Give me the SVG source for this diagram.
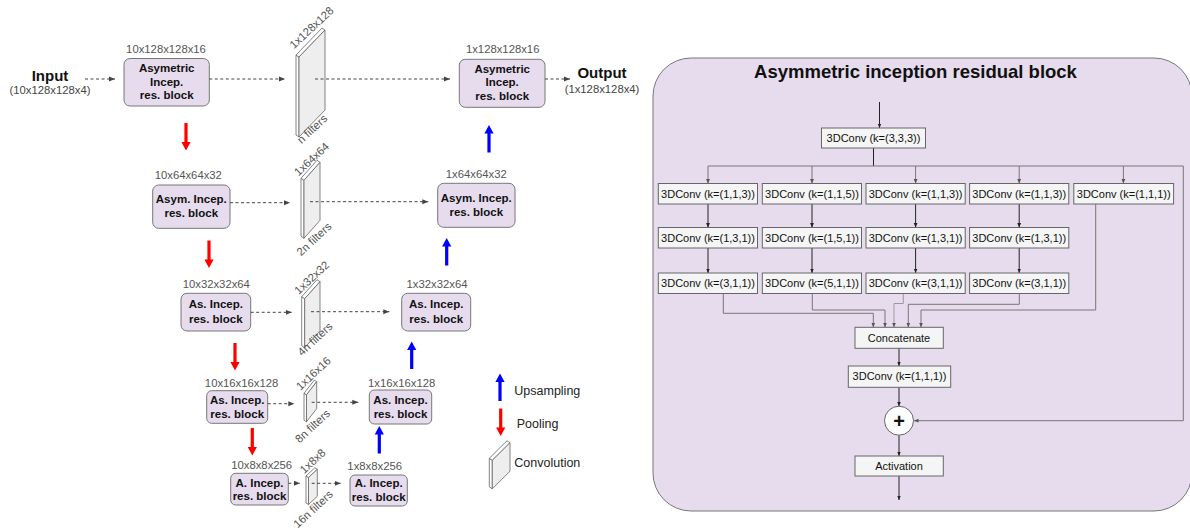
<svg xmlns="http://www.w3.org/2000/svg" width="1190" height="528" viewBox="0 0 1190 528">
<defs>
<style>
.lbl{font-family:"Liberation Sans",Arial,sans-serif;font-size:11.3px;fill:#555;}
.bt{font-family:"Liberation Sans",Arial,sans-serif;font-size:11.5px;font-weight:bold;fill:#111;text-anchor:middle;}
.box{fill:#e6dced;stroke:#777;stroke-width:1;}
.dash{stroke:#444;stroke-width:1;stroke-dasharray:3,2.5;fill:none;marker-end:url(#dh);}
.face{fill:#eeeeee;stroke:#666;stroke-width:0.8;}
.edge{fill:#ffffff;stroke:#666;stroke-width:0.8;}
.rot{font-family:"Liberation Sans",Arial,sans-serif;font-size:11.3px;fill:#555;text-anchor:middle;}
.leg{font-family:"Liberation Sans",Arial,sans-serif;font-size:12.5px;fill:#222;}
.cb{fill:#f5f5f5;stroke:#666;stroke-width:1;}
.ct{font-family:"Liberation Sans",Arial,sans-serif;font-size:11px;fill:#111;text-anchor:middle;}
.ln{stroke:#222;stroke-width:1;fill:none;marker-end:url(#ah);}
.gl{stroke:#777;stroke-width:1;fill:none;marker-end:url(#ag);}
.gn{stroke:#777;stroke-width:1;fill:none;}
</style>
<marker id="dh" markerUnits="userSpaceOnUse" markerWidth="7" markerHeight="6" refX="6" refY="3" orient="auto"><path d="M0,0.5 L6,3 L0,5.5 Z" fill="#444"/></marker>
<marker id="ah" markerUnits="userSpaceOnUse" markerWidth="5" markerHeight="5" refX="4.5" refY="2.5" orient="auto"><path d="M0,0.6 L4.5,2.5 L0,4.4 Z" fill="#222"/></marker>
<marker id="ag" markerUnits="userSpaceOnUse" markerWidth="5" markerHeight="5" refX="4.5" refY="2.5" orient="auto"><path d="M0,0.6 L4.5,2.5 L0,4.4 Z" fill="#555"/></marker>
<path id="down" d="M-1.6,0 H1.6 V19 H4.6 L0,27.5 L-4.6,19 H-1.6 Z"/>
<path id="up" d="M-1.6,27.5 H1.6 V8.5 H4.6 L0,0 L-4.6,8.5 H-1.6 Z"/>
</defs>
<rect width="1190" height="528" fill="#ffffff"/>

<!-- Input / Output -->
<g id="input">
<text x="50" y="81" font-family="Liberation Sans,Arial,sans-serif" font-size="15" font-weight="bold" text-anchor="middle" fill="#111">Input</text>
<text x="50" y="94.3" class="lbl" text-anchor="middle" style="fill:#444">(10x128x128x4)</text>
</g>
<g id="output">
<text x="602" y="78.3" font-family="Liberation Sans,Arial,sans-serif" font-size="15" font-weight="bold" text-anchor="middle" fill="#111">Output</text>
<text x="602" y="93.3" class="lbl" text-anchor="middle" style="fill:#444">(1x128x128x4)</text>
</g>

<!-- Encoder blocks -->
<g id="enc1">
<text x="166" y="52.7" class="lbl" text-anchor="middle">10x128x128x16</text>
<rect x="124" y="58.5" width="85.3" height="47.5" rx="6" class="box"/>
<text x="166.7" y="72" class="bt">Asymetric</text>
<text x="166.7" y="85.5" class="bt">Incep.</text>
<text x="166.7" y="99" class="bt">res. block</text>
</g>
<g id="enc2">
<text x="188.3" y="179" class="lbl" text-anchor="middle">10x64x64x32</text>
<rect x="152.7" y="185" width="77.3" height="43.3" rx="6" class="box"/>
<text x="191.3" y="203.3" class="bt">Asym. Incep.</text>
<text x="191.3" y="216.7" class="bt">res. block</text>
</g>
<g id="enc3">
<text x="216.3" y="288.3" class="lbl" text-anchor="middle">10x32x32x64</text>
<rect x="181" y="293.3" width="69.7" height="37.7" rx="6" class="box"/>
<text x="215.8" y="308.3" class="bt">As. Incep.</text>
<text x="215.8" y="322.7" class="bt">res. block</text>
</g>
<g id="enc4">
<text x="241.6" y="386.7" class="lbl" text-anchor="middle">10x16x16x128</text>
<rect x="206.7" y="390.7" width="61" height="32.6" rx="5" class="box"/>
<text x="237.2" y="404.3" class="bt">As. Incep.</text>
<text x="237.2" y="417.7" class="bt">res. block</text>
</g>
<g id="enc5">
<text x="261.7" y="469" class="lbl" text-anchor="middle">10x8x8x256</text>
<rect x="230.7" y="473.3" width="57.6" height="31.7" rx="5" class="box"/>
<text x="259.5" y="486.7" class="bt">A. Incep.</text>
<text x="259.5" y="500" class="bt">res. block</text>
</g>

<!-- Decoder blocks -->
<g id="dec1">
<text x="502.7" y="52.7" class="lbl" text-anchor="middle">1x128x128x16</text>
<rect x="459.3" y="59.3" width="85.7" height="48" rx="6" class="box"/>
<text x="502.2" y="72.5" class="bt">Asymetric</text>
<text x="502.2" y="86" class="bt">Incep.</text>
<text x="502.2" y="99.5" class="bt">res. block</text>
</g>
<g id="dec2">
<text x="476.3" y="178.3" class="lbl" text-anchor="middle">1x64x64x32</text>
<rect x="437.7" y="183.3" width="77.3" height="44" rx="6" class="box"/>
<text x="476.3" y="201.7" class="bt">Asym. Incep.</text>
<text x="476.3" y="215.7" class="bt">res. block</text>
</g>
<g id="dec3">
<text x="437" y="288.3" class="lbl" text-anchor="middle">1x32x32x64</text>
<rect x="401.7" y="293.3" width="69" height="37.7" rx="6" class="box"/>
<text x="436.2" y="308.3" class="bt">As. Incep.</text>
<text x="436.2" y="322.7" class="bt">res. block</text>
</g>
<g id="dec4">
<text x="401.7" y="386.7" class="lbl" text-anchor="middle">1x16x16x128</text>
<rect x="369.3" y="390" width="62.4" height="34" rx="5" class="box"/>
<text x="400.5" y="404" class="bt">As. Incep.</text>
<text x="400.5" y="417.7" class="bt">res. block</text>
</g>
<g id="dec5">
<text x="374.7" y="470" class="lbl" text-anchor="middle">1x8x8x256</text>
<rect x="350" y="475" width="57.3" height="31" rx="5" class="box"/>
<text x="378.7" y="487.3" class="bt">A. Incep.</text>
<text x="378.7" y="500.7" class="bt">res. block</text>
</g>

<!-- Connectors (left) -->
<g id="connectors-left">
<line x1="85" y1="79" x2="115" y2="79" class="dash"/>
<line x1="209.3" y1="79" x2="285" y2="79" class="dash"/>
<line x1="545" y1="79" x2="570" y2="79" class="dash"/>
<line x1="230" y1="202.7" x2="290" y2="202.7" class="dash"/>
<line x1="250.7" y1="312.3" x2="291.7" y2="312.3" class="dash"/>
<line x1="267.7" y1="403.7" x2="294.3" y2="403.7" class="dash"/>
<line x1="288.3" y1="483.3" x2="300" y2="483.3" class="dash"/>
<g fill="#ff0000">
<use href="#down" x="186" y="123"/>
<use href="#down" x="209" y="240.5"/>
<use href="#down" x="235" y="343"/>
<use href="#down" x="252.3" y="428"/>
</g>
<g fill="#0000ff">
<use href="#up" x="489" y="125"/>
<use href="#up" x="446.7" y="238"/>
<use href="#up" x="411.7" y="341.5"/>
<use href="#up" x="379.3" y="426"/>
</g>
</g>

<!-- Convolution slabs -->
<g id="conv1">
<polygon points="296,55 299,57 299,137 296,135" class="edge"/>
<polygon points="296,55 322,28 325,30 299,57" class="edge"/>
<polygon points="299,57 325,30 325,110 299,137" class="face"/>
<text class="rot" transform="translate(311.5,27.5) rotate(-43)" x="0" y="4">1x128x128</text>
<text class="rot" transform="translate(312,129) rotate(-43)" x="0" y="4">n filters</text>
</g>
<g id="conv2">
<polygon points="301,178.3 304,180.3 304,238.3 301,236.3" class="edge"/>
<polygon points="301,178.3 317,160.3 320,162.3 304,180.3" class="edge"/>
<polygon points="304,180.3 320,162.3 320,220.3 304,238.3" class="face"/>
<text class="rot" transform="translate(311.5,159) rotate(-43)" x="0" y="4">1x64x64</text>
<text class="rot" transform="translate(314,239) rotate(-43)" x="0" y="4">2n filters</text>
</g>
<g id="conv3">
<polygon points="301.7,296.7 304.7,298.7 304.7,347.7 301.7,345.7" class="edge"/>
<polygon points="301.7,296.7 317,279.7 320,281.7 304.7,298.7" class="edge"/>
<polygon points="304.7,298.7 320,281.7 320,330.7 304.7,347.7" class="face"/>
<text class="rot" transform="translate(311.7,277.5) rotate(-43)" x="0" y="4">1x32x32</text>
<text class="rot" transform="translate(315,339) rotate(-43)" x="0" y="4">4n filters</text>
</g>
<g id="conv4">
<polygon points="304,393.3 306.5,394.8 306.5,421.8 304,420.3" class="edge"/>
<polygon points="304,393.3 314.2,380.2 316.7,381.7 306.5,394.8" class="edge"/>
<polygon points="306.5,394.8 316.7,381.7 316.7,408.7 306.5,421.8" class="face"/>
<text class="rot" transform="translate(313.3,373.3) rotate(-43)" x="0" y="4">1x16x16</text>
<text class="rot" transform="translate(312.5,426) rotate(-43)" x="0" y="4">8n filters</text>
</g>
<g id="conv5">
<polygon points="306,476 308.5,477.5 308.5,504.5 306,503" class="edge"/>
<polygon points="306,476 314.8,467.8 317.3,469.3 308.5,477.5" class="edge"/>
<polygon points="308.5,477.5 317.3,469.3 317.3,496.3 308.5,504.5" class="face"/>
<text class="rot" transform="translate(312.5,461) rotate(-43)" x="0" y="4">1x8x8</text>
<text class="rot" transform="translate(313,509) rotate(-43)" x="0" y="4">16n filters</text>
</g>

<g id="skip-connectors">
<line x1="315" y1="79" x2="450" y2="79" class="dash"/>
<line x1="310" y1="201.7" x2="428.3" y2="201.7" class="dash"/>
<line x1="311" y1="311.7" x2="389.3" y2="311.7" class="dash"/>
<line x1="311.7" y1="402.3" x2="358.3" y2="402.3" class="dash"/>
<line x1="311.7" y1="483.3" x2="340.7" y2="483.3" class="dash"/>
</g>

<!-- Legend -->
<g id="legend">
<use href="#up" x="500" y="373.5" fill="#0000ff"/>
<text x="514.3" y="395" class="leg">Upsampling</text>
<use href="#down" x="500.7" y="408.5" fill="#ff0000"/>
<text x="516.7" y="428.3" class="leg">Pooling</text>
<polygon points="489.3,458.3 492.3,460.3 492.3,488.8 489.3,486.8" class="edge"/>
<polygon points="489.3,458.3 507,440.7 510,442.7 492.3,460.3" class="edge"/>
<polygon points="492.3,460.3 510,442.7 510,471.2 492.3,488.8" class="face"/>
<text x="514.3" y="466.7" class="leg">Convolution</text>
</g>

<!-- Right panel -->
<g id="panel">
<rect x="653" y="58" width="539" height="453" rx="38" fill="#e6dcee" stroke="#777" stroke-width="1"/>
<text x="915.5" y="78" font-family="Liberation Sans,Arial,sans-serif" font-size="18.5" font-weight="bold" text-anchor="middle" fill="#111">Asymmetric inception residual block</text>
</g>

<g id="panel-connectors">
<line x1="879.5" y1="102" x2="879.5" y2="128" class="ln"/>
<polyline points="873.5,148 873.5,166" class="gn" style="stroke:#222"/>
<polyline points="708,166 1183.3,166 1183.3,420.7 914,420.7" class="gl"/>
<line x1="708" y1="166" x2="708" y2="183.5" class="gl"/>
<line x1="812" y1="166" x2="812" y2="183.5" class="gl"/>
<line x1="915.6" y1="166" x2="915.6" y2="183.5" class="gl"/>
<line x1="1019.2" y1="166" x2="1019.2" y2="183.5" class="gl"/>
<line x1="1123.4" y1="166" x2="1123.4" y2="183.5" class="gl"/>
<line x1="708" y1="204" x2="708" y2="227.5" class="ln"/>
<line x1="812" y1="204" x2="812" y2="227.5" class="ln"/>
<line x1="915.6" y1="204" x2="915.6" y2="227.5" class="ln"/>
<line x1="1019.2" y1="204" x2="1019.2" y2="227.5" class="ln"/>
<line x1="708" y1="248" x2="708" y2="273" class="ln"/>
<line x1="812" y1="248" x2="812" y2="273" class="ln"/>
<line x1="915.6" y1="248" x2="915.6" y2="273" class="ln"/>
<line x1="1019.2" y1="248" x2="1019.2" y2="273" class="ln"/>
<polyline points="723.3,293.5 723.3,313.3 873.3,313.3 873.3,327.3" class="gl"/>
<polyline points="812.3,293.5 812.3,310 885,310 885,327.3" class="gl"/>
<polyline points="903.3,293.5 903.3,303.5 894,303.5 894,327.3" class="gl" style="stroke:#999"/>
<polyline points="1019.3,293.5 1019.3,304.3 908.3,304.3 908.3,327.3" class="gl"/>
<polyline points="1095.7,204 1095.7,310 921,310 921,327.3" class="gl"/>
<line x1="899" y1="348.3" x2="899" y2="366" class="ln"/>
<line x1="899" y1="387.3" x2="899" y2="406.2" class="ln"/>
<line x1="899" y1="435.2" x2="899" y2="456" class="ln"/>
<line x1="899" y1="476" x2="899" y2="500" class="ln"/>
</g>

<g id="conv333"><rect x="821.5" y="128" width="104" height="20" class="cb"/><text x="873.5" y="142" class="ct">3DConv (k=(3,3,3))</text></g>
<g id="r1c1"><rect x="658.3" y="183.5" width="99.2" height="20.5" class="cb"/><text x="708" y="197.6" class="ct">3DConv (k=(1,1,3))</text></g>
<g id="r1c2"><rect x="762.3" y="183.5" width="99.2" height="20.5" class="cb"/><text x="812" y="197.6" class="ct">3DConv (k=(1,1,5))</text></g>
<g id="r1c3"><rect x="866" y="183.5" width="99.2" height="20.5" class="cb"/><text x="915.6" y="197.6" class="ct">3DConv (k=(1,1,3))</text></g>
<g id="r1c4"><rect x="969.6" y="183.5" width="99.2" height="20.5" class="cb"/><text x="1019.2" y="197.6" class="ct">3DConv (k=(1,1,3))</text></g>
<g id="r1c5"><rect x="1073.8" y="183.5" width="99.8" height="20.5" class="cb"/><text x="1123.7" y="197.6" class="ct">3DConv (k=(1,1,1))</text></g>
<g id="r2c1"><rect x="658.3" y="227.5" width="99.2" height="20.5" class="cb"/><text x="708" y="241.6" class="ct">3DConv (k=(1,3,1))</text></g>
<g id="r2c2"><rect x="762.3" y="227.5" width="99.2" height="20.5" class="cb"/><text x="812" y="241.6" class="ct">3DConv (k=(1,5,1))</text></g>
<g id="r2c3"><rect x="866" y="227.5" width="99.2" height="20.5" class="cb"/><text x="915.6" y="241.6" class="ct">3DConv (k=(1,3,1))</text></g>
<g id="r2c4"><rect x="969.6" y="227.5" width="99.2" height="20.5" class="cb"/><text x="1019.2" y="241.6" class="ct">3DConv (k=(1,3,1))</text></g>
<g id="r3c1"><rect x="658.3" y="273" width="99.2" height="20.5" class="cb"/><text x="708" y="287.1" class="ct">3DConv (k=(3,1,1))</text></g>
<g id="r3c2"><rect x="762.3" y="273" width="99.2" height="20.5" class="cb"/><text x="812" y="287.1" class="ct">3DConv (k=(5,1,1))</text></g>
<g id="r3c3"><rect x="866" y="273" width="99.2" height="20.5" class="cb"/><text x="915.6" y="287.1" class="ct">3DConv (k=(3,1,1))</text></g>
<g id="r3c4"><rect x="969.6" y="273" width="99.2" height="20.5" class="cb"/><text x="1019.2" y="287.1" class="ct">3DConv (k=(3,1,1))</text></g>
<g id="concat"><rect x="855" y="327.3" width="88.3" height="21" class="cb"/><text x="899" y="341.6" class="ct">Concatenate</text></g>
<g id="conv111"><rect x="848.3" y="366" width="102.4" height="21.3" class="cb"/><text x="899.5" y="380.4" class="ct">3DConv (k=(1,1,1))</text></g>
<g id="add"><circle cx="899" cy="420.7" r="14.5" fill="#ffffff" stroke="#666" stroke-width="1"/><text x="899" y="427.5" font-family="Liberation Sans,Arial,sans-serif" font-size="20" font-weight="bold" text-anchor="middle" fill="#111">+</text></g>
<g id="activation"><rect x="855" y="456" width="88.3" height="20" class="cb"/><text x="899" y="470" class="ct">Activation</text></g>
</svg>
